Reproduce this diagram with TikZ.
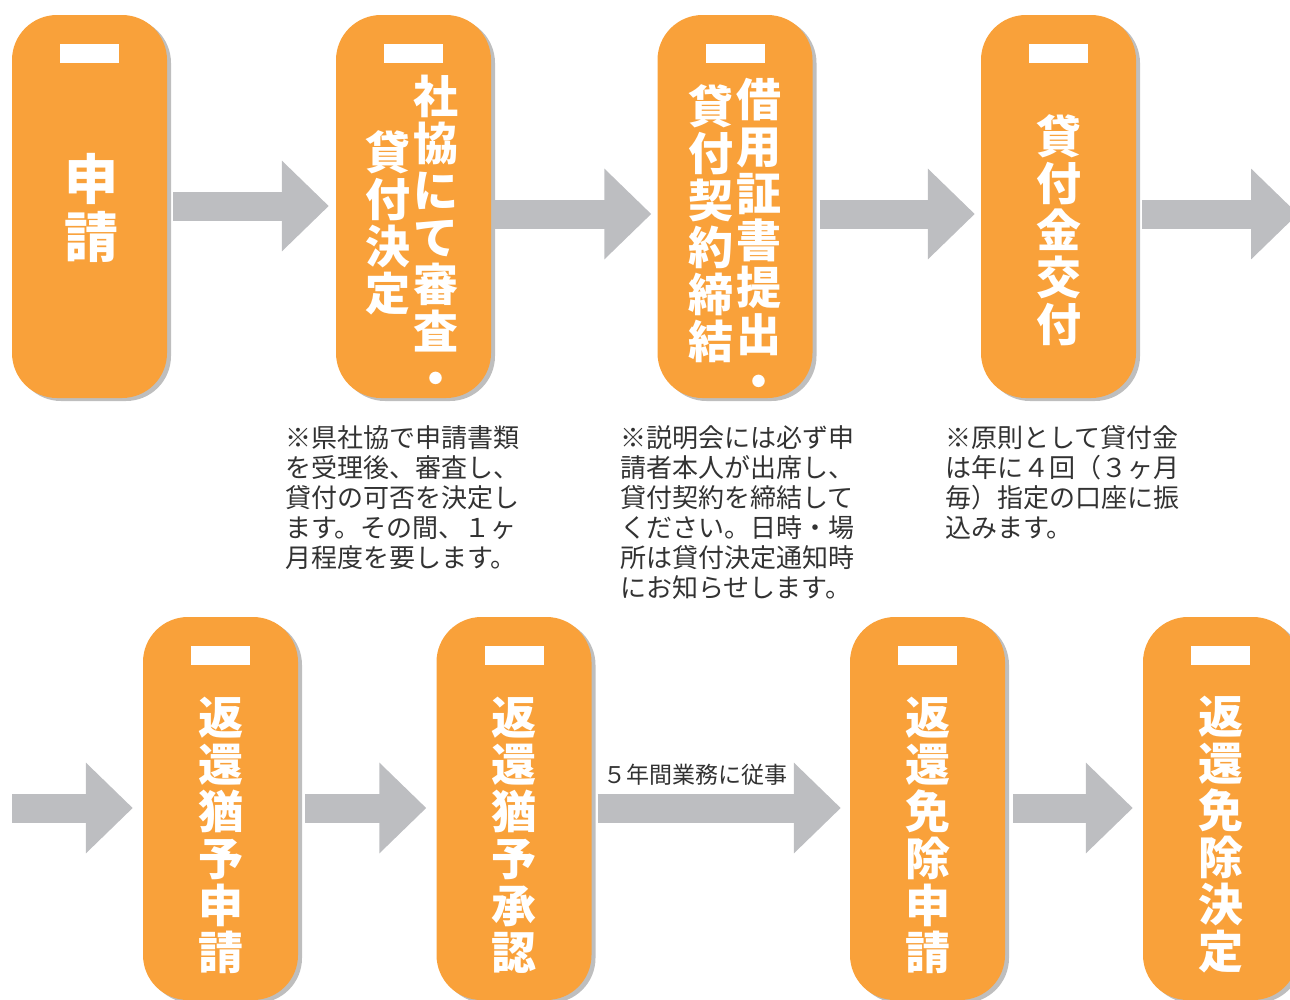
\documentclass[tikz,border=0pt]{standalone}
\usepackage{fontspec}
\newfontfamily\jpfont{Noto Sans CJK JP}
\usetikzlibrary{arrows.meta,shadows}
\definecolor{stepfill}{RGB}{249,161,58}
\definecolor{arrowgray}{RGB}{189,190,193}
\definecolor{shadowgray}{RGB}{190,190,190}
\definecolor{notetext}{RGB}{50,50,50}
\tikzset{
  stepbox/.style={fill=stepfill, rounded corners=45pt, minimum width=155pt, minimum height=383pt, inner sep=0pt,
    drop shadow={shadow xshift=4pt, shadow yshift=-3pt, fill=shadowgray, opacity=1}},
  tagbar/.style={fill=white, minimum width=59pt, minimum height=19pt, inner sep=0pt},
  steptext/.style={text=white, align=center, inner sep=0pt, font=\jpfont\bfseries\fontsize{45}{47}\selectfont},
  note/.style={text=notetext, align=left, anchor=north west, inner sep=0pt, font=\jpfont\fontsize{26}{30}\selectfont},
  flow/.style={draw=arrowgray, line width=29pt, -{Triangle[length=47pt,width=88pt]}},
}
\begin{document}
\begin{tikzpicture}[x=1pt,y=-1pt]
  \clip (0,0) rectangle (1290,999);
  % top row
  \node[stepbox] (apply) at (89.5,206.5) {};
  \node[stepbox] (review) at (413.5,206.5) {};
  \node[stepbox] (contract) at (735,206.5) {};
  \node[stepbox] (payout) at (1058.5,206.5) {};
  % bottom row
  \node[stepbox] (defapply) at (220.5,808.5) {};
  \node[stepbox] (defok) at (514,808.5) {};
  \node[stepbox] (exapply) at (927.5,808.5) {};
  \node[stepbox] (exok) at (1220.5,808.5) {};
  \foreach \b in {apply,review,contract,payout,defapply,defok,exapply,exok}
    \node[tagbar] (bar-\b) at ([yshift=-38.5pt]\b.north) {};
  % box texts
  \node[steptext, font=\jpfont\bfseries\fontsize{54}{58}\selectfont] (t-apply) at (91,208) {申\\請};
  \node[steptext] (t-review1) at (436,235) {社\\協\\に\\て\\審\\査\\・};
  \node[steptext] (t-review2) at (388,223) {貸\\付\\決\\定};
  \node[steptext] (t-contract1) at (759,238) {借\\用\\証\\書\\提\\出\\・};
  \node[steptext] (t-contract2) at (711,224) {貸\\付\\契\\約\\締\\結};
  \node[steptext] (t-payout) at (1058.5,230) {貸\\付\\金\\交\\付};
  \node[steptext] (t-defapply) at (220.5,835) {返\\還\\猶\\予\\申\\請};
  \node[steptext] (t-defok) at (514,835) {返\\還\\猶\\予\\承\\認};
  \node[steptext] (t-exapply) at (927.5,835) {返\\還\\免\\除\\申\\請};
  \node[steptext] (t-exok) at (1220.5,835) {返\\還\\免\\除\\決\\定};
  % notes
  \node[note] (note-review) at (285,425) {※県社協で申請書類\\を受理後、審査し、\\貸付の可否を決定し\\ます。その間、１ヶ\\月程度を要します。};
  \node[note] (note-contract) at (620,425) {※説明会には必ず申\\請者本人が出席し、\\貸付契約を締結して\\ください。日時・場\\所は貸付決定通知時\\にお知らせします。};
  \node[note] (note-payout) at (945,425) {※原則として貸付金\\は年に４回（３ヶ月\\毎）指定の口座に振\\込みます。};
  % arrows
  \coordinate (out-top) at (1298,214);
  \coordinate (in-bottom) at (12,808);
  \draw[flow] ([xshift=6pt]apply.east |- 0,206) -- ([xshift=-7pt]review.west |- 0,206);
  \draw[flow] ([xshift=4pt]review.east |- 0,214) -- ([xshift=-6pt]contract.west |- 0,214);
  \draw[flow] ([xshift=7pt]contract.east |- 0,214) -- ([xshift=-6pt]payout.west |- 0,214);
  \draw[flow] ([xshift=6pt]payout.east |- out-top) -- (out-top);
  \draw[flow] (in-bottom) -- ([xshift=-10pt]defapply.west |- in-bottom);
  \draw[flow] ([xshift=7pt]defapply.east |- in-bottom) -- ([xshift=-10pt]defok.west |- in-bottom);
  \draw[flow] ([xshift=6pt]defok.east |- in-bottom) -- node[at start, anchor=south west, xshift=-9pt, yshift=8pt,
    inner sep=0pt, text=notetext, font=\jpfont\fontsize{23}{26}\selectfont] (lbl-work) {５年間業務に従事} ([xshift=-9pt]exapply.west |- in-bottom);
  \draw[flow] ([xshift=8pt]exapply.east |- in-bottom) -- ([xshift=-10pt]exok.west |- in-bottom);
\end{tikzpicture}
\end{document}
